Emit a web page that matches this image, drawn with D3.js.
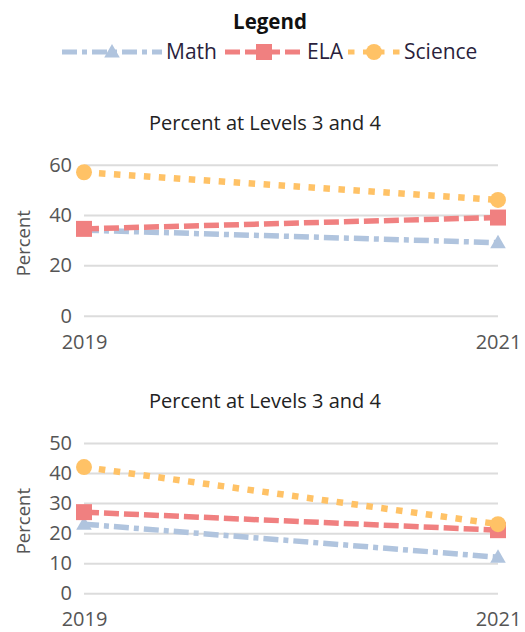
<!DOCTYPE html>
<html>
<head>
<meta charset="utf-8">
<script src="https://cdn.jsdelivr.net/npm/d3@7"></script>
<style>
  body{margin:0;background:#fff;}
  svg{display:block;font-family:"Open Sans","Noto Sans",sans-serif;}
</style>
</head>
<body>
<svg></svg>
<script>
var years = ["2019","2021"];
var subjects = ["Math","ELA","Science"];
var colors = ["#b0c4de","#f08080","#ffc266"];
var dashes = ["15,5,5,5","15,5","6.5,8.5"];
var widths = [5.5,5.5,6.5];
var chartTitle = "Percent at Levels 3 and 4";

var mathTop = [34,29];
var elaTop = [34.5,39];
var scienceTop = [57,46];
var topTicks = [0,20,40,60];

var mathBottom = [23,12];
var elaBottom = [27,21];
var scienceBottom = [42,23];
var bottomTicks = [0,10,20,30,40,50];

start();

function start(){
  var width = 525;
  var height = 632;

  var svg = d3.select("svg")
              .attr("width",width)
              .attr("height",height);

  legend(svg);

  graph(svg,{
    series:[mathTop,elaTop,scienceTop],
    ticks:topTicks,
    top:164.7,
    bottom:315.7,
    titleY:130
  });

  graph(svg,{
    series:[mathBottom,elaBottom,scienceBottom],
    ticks:bottomTicks,
    top:443,
    bottom:593.3,
    titleY:408
  });
}

function marker(g,i,x,y){
  var sym = [d3.symbolTriangle,d3.symbolSquare,d3.symbolCircle][i];
  var size = [105,256,200][i];
  g.append("path")
   .attr("d",d3.symbol().type(sym).size(size))
   .attr("transform","translate("+x+","+(i==0 ? y+1 : y)+")")
   .attr("fill",colors[i]);
}

function legend(svg){
  svg.append("text")
     .attr("x",270)
     .attr("y",29)
     .attr("text-anchor","middle")
     .attr("font-weight","bold")
     .attr("font-size",20.5)
     .attr("fill","#111")
     .text("Legend");

  var items = [
    {x1:62,x2:162,tx:166},
    {x1:225,x2:303,tx:307},
    {x1:348,x2:400,tx:404}
  ];
  items.forEach(function(it,i){
    var g = svg.append("g");
    g.append("line")
     .attr("x1",it.x1).attr("x2",it.x2)
     .attr("y1",52).attr("y2",52)
     .attr("stroke",colors[i])
     .attr("stroke-width",5)
     .attr("stroke-dasharray",dashes[i]);
    marker(g,i,(it.x1+it.x2)/2,52);
    g.append("text")
     .attr("x",it.tx)
     .attr("y",59)
     .attr("font-size",21)
     .attr("fill","#2a1f3d")
     .text(subjects[i]);
  });
}

function graph(svg,cfg){
  var x = d3.scalePoint()
            .domain(years)
            .range([84,498]);

  var y = d3.scaleLinear()
            .domain([0,d3.max(cfg.ticks)])
            .range([cfg.bottom,cfg.top]);

  svg.append("text")
     .attr("x",265)
     .attr("y",cfg.titleY)
     .attr("text-anchor","middle")
     .attr("font-size",20)
     .attr("fill","#222")
     .text(chartTitle);

  var yAxis = svg.append("g")
                 .attr("transform","translate(84,0)")
                 .call(d3.axisLeft(y)
                         .tickValues(cfg.ticks)
                         .tickSize(-(498-84))
                         .tickPadding(12)
                         .tickFormat(d3.format("d")));
  yAxis.select(".domain").remove();
  yAxis.selectAll(".tick line")
       .attr("stroke","#dcdcdc")
       .attr("stroke-width",2);
  yAxis.selectAll(".tick text")
       .attr("font-size",20)
       .attr("font-family","'Open Sans','Noto Sans',sans-serif")
       .attr("fill","#555");

  var xAxis = svg.append("g")
                 .attr("transform","translate(0,"+(cfg.bottom+10)+")")
                 .call(d3.axisBottom(x).tickSize(0).tickPadding(9));
  xAxis.select(".domain").remove();
  xAxis.selectAll(".tick text")
       .attr("font-size",20)
       .attr("font-family","'Open Sans','Noto Sans',sans-serif")
       .attr("fill","#555");

  svg.append("text")
     .attr("transform","translate(30,"+((cfg.top+cfg.bottom)/2+3)+") rotate(-90)")
     .attr("text-anchor","middle")
     .attr("font-size",18.5)
     .attr("fill","#555")
     .text("Percent");

  var line = d3.line()
               .x(function(d,i){return x(years[i]);})
               .y(function(d){return y(d);});

  cfg.series.forEach(function(s,i){
    var g = svg.append("g");
    g.append("path")
     .datum(s)
     .attr("d",line)
     .attr("fill","none")
     .attr("stroke",colors[i])
     .attr("stroke-width",widths[i])
     .attr("stroke-dasharray",dashes[i]);
    s.forEach(function(v,j){
      marker(g,i,x(years[j]),y(v));
    });
  });
}
</script>
</body>
</html>
